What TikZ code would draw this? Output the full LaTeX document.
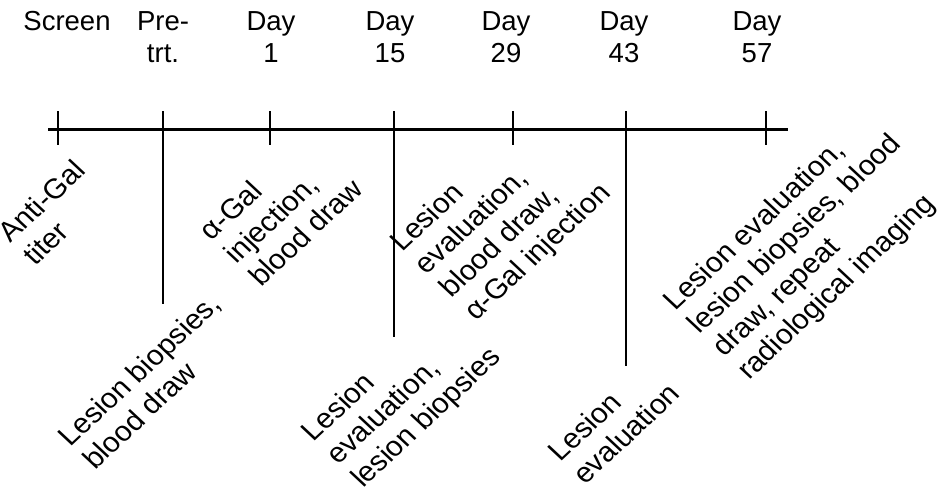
\documentclass[tikz,border=0pt]{standalone}
\usepackage{fontspec}
\setmainfont{Liberation Sans}
\begin{document}
\begin{tikzpicture}[x=1pt,y=-1pt,
  hdr/.style={font=\fontsize{27.5}{32}\selectfont, align=center, anchor=base, inner sep=0pt},
  lbl/.style={font=\fontsize{28}{32.5}\selectfont, align=left, anchor=base west, rotate=45, inner sep=0pt},
  axis/.style={line width=3pt},
  tick/.style={line width=2.6pt}]
\useasboundingbox (0,0) rectangle (942,495);
% header (base anchor = baseline of last line)
\node[hdr] (h0) at (67,31) {Screen};
\node[hdr] (h1) at (163,63) {Pre-\\trt.};
\node[hdr] (h2) at (271,63) {Day\\1};
\node[hdr] (h3) at (390,63) {Day\\15};
\node[hdr] (h4) at (506,63) {Day\\29};
\node[hdr] (h5) at (624,63) {Day\\43};
\node[hdr] (h6) at (757,63) {Day\\57};
% axis
\coordinate (axL) at (48,129);
\coordinate (axR) at (788,129);
\draw[axis] (axL) -- (axR);
\foreach \n/\x/\e in {t0/58/145, t1/163/304, t2/270/145, t3/394/337, t4/513/145, t5/626/366, t6/766/145}{
  \coordinate (\n a) at (\x,111);
  \coordinate (\n b) at (\x,\e);
  \draw[tick] (\n a) -- (\n b);
}
% labels (base west = start of last line's baseline), slightly stretched horizontally
\begin{scope}[xscale=1.07, transform shape]
\node[lbl] (l0) at ({35/1.07},267) {Anti-Gal\\titer};
\node[lbl] (l1) at ({95/1.07},471) {Lesion biopsies,\\blood draw};
\node[lbl] (l2) at ({261/1.07},288) {α-Gal\\injection,\\blood draw};
\node[lbl] (l3) at ({363/1.07},489) {Lesion\\evaluation,\\lesion biopsies};
\node[lbl] (l4) at ({476/1.07},322) {Lesion\\evaluation,\\blood draw,\\α-Gal injection};
\node[lbl] (l5) at ({585/1.07},486) {Lesion\\evaluation};
\node[lbl] (l6) at ({749/1.07},381) {Lesion evaluation,\\lesion biopsies, blood\\draw, repeat\\radiological imaging};
\end{scope}
\end{tikzpicture}
\end{document}
